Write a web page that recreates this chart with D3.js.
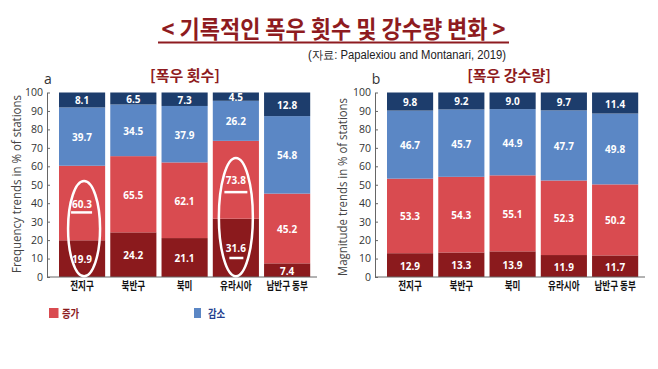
<!DOCTYPE html>
<html><head><meta charset="utf-8">
<script src="https://cdn.jsdelivr.net/npm/d3@7"></script>
<style>body{margin:0;background:#fff}svg{display:block}</style>
</head><body>
<svg id="c" width="658" height="369"></svg>
<script>
// ---- data ----
const categories = ["전지구", "북반구", "북미", "유라시아", "남반구 동부"];
const freqStrongIncrease = [19.9, 24.2, 21.1, 31.6, 7.4];
const freqIncrease       = [60.3, 65.5, 62.1, 73.8, 45.2];
const freqDecrease       = [39.7, 34.5, 37.9, 26.2, 54.8];
const freqStrongDecrease = [8.1, 6.5, 7.3, 4.5, 12.8];
const magStrongIncrease  = [12.9, 13.3, 13.9, 11.9, 11.7];
const magIncrease        = [53.3, 54.3, 55.1, 52.3, 50.2];
const magDecrease        = [46.7, 45.7, 44.9, 47.7, 49.8];
const magStrongDecrease  = [9.8, 9.2, 9.0, 9.7, 11.4];
const yTicks = [0, 10, 20, 30, 40, 50, 60, 70, 80, 90, 100];
const legendLabels = ["증가", "감소"];
const titleText = "< 기록적인 폭우 횟수 및 강수량 변화 >";
const sourceText = "(자료: Papalexiou and Montanari, 2019)";
// annotation (circled bars in panel a): category index, top value of ellipse
const circled = [{i: 0, top: 52, dx: 2, rx: 16}, {i: 3, top: 64.5, dx: 0, rx: 17}];
const underlines = [{i: 0, v: 35, a: -11, b: 10}, {i: 3, v: 46, a: -11.5, b: 11.5}, {i: 3, v: 10.3, a: -6.5, b: 7.5}];

const C = {darkBlue: "#1d3d6c", blue: "#5b87c5", red: "#d94b50", darkRed: "#8b1a1d", title: "#8e1b20"};
const svg = d3.select("#c");
const KR = "'Noto Sans CJK KR', sans-serif";
const LAT = "'Open Sans', 'Noto Sans', sans-serif";

// title
svg.append("text").attr("x", 161.5).attr("y", 38).attr("font-family", KR).attr("font-weight", 700)
  .attr("font-size", 24).attr("fill", C.title).attr("textLength", 344).attr("lengthAdjust", "spacingAndGlyphs").text(titleText);
svg.append("line").attr("x1", 158).attr("x2", 509).attr("y1", 42.5).attr("y2", 42.5).attr("stroke", C.title).attr("stroke-width", 2);
svg.append("text").attr("x", 308).attr("y", 59).attr("font-family", "'Liberation Sans Narrow', 'Liberation Sans', sans-serif")
  .attr("font-size", 12).attr("fill", "#222").attr("textLength", 198).attr("lengthAdjust", "spacingAndGlyphs").text(sourceText);

function compressed(sel, ratio) {
  sel.each(function () {
    const L = this.getComputedTextLength();
    d3.select(this).attr("textLength", L * ratio).attr("lengthAdjust", "spacingAndGlyphs");
  });
}

function panel(cfg) {
  const g = svg.append("g");
  const y = d3.scaleLinear().domain([0, 100]).range([277, 92.5]);
  const x = d3.scaleBand().domain(categories).range([cfg.x0, cfg.x0 + 251.2]).paddingInner(0.1).paddingOuter(0);
  const bw = x.bandwidth();
  const rows = categories.map((c, i) => ({
    c, si: cfg.si[i], inc: cfg.inc[i], dec: cfg.dec[i], sd: cfg.sd[i]
  }));
  const segs = [];
  rows.forEach(r => {
    segs.push({c: r.c, y0: 0, y1: r.si, fill: C.darkRed, label: r.si});
    segs.push({c: r.c, y0: r.si, y1: r.inc, fill: C.red, label: r.inc});
    segs.push({c: r.c, y0: r.inc, y1: 100 - r.sd, fill: C.blue, label: r.dec});
    segs.push({c: r.c, y0: 100 - r.sd, y1: 100, fill: C.darkBlue, label: r.sd});
  });
  g.selectAll("rect.seg").data(segs).join("rect").attr("class", "seg")
    .attr("x", d => x(d.c)).attr("width", bw)
    .attr("y", d => y(d.y1)).attr("height", d => y(d.y0) - y(d.y1)).attr("fill", d => d.fill);
  g.selectAll("text.val").data(segs).join("text").attr("class", "val")
    .attr("x", d => x(d.c) + bw / 2).attr("y", d => y((d.y0 + d.y1) / 2) + 1)
    .attr("dy", "0.35em").attr("text-anchor", "middle").attr("font-family", LAT).attr("font-weight", 700)
    .attr("font-size", 10).attr("fill", "#fff").text(d => d.label.toFixed(1));

  // axes
  const ax = g.append("g").attr("transform", `translate(${cfg.axisX},0)`)
    .call(d3.axisLeft(y).tickValues(yTicks).tickSizeInner(-3).tickSizeOuter(0).tickPadding(4));
  ax.select(".domain").attr("stroke", "#666");
  ax.selectAll(".tick line").attr("stroke", "#666");
  ax.selectAll(".tick text").attr("font-family", LAT).attr("font-size", 10.5).attr("fill", "#333");
  g.append("line").attr("x1", cfg.axisX).attr("x2", cfg.axisX + 270).attr("y1", y(0)).attr("y2", y(0)).attr("stroke", "#666");

  const xl = g.selectAll("text.cat").data(categories).join("text").attr("class", "cat")
    .attr("x", d => x(d) + bw / 2).attr("y", 290).attr("text-anchor", "middle")
    .attr("font-family", KR).attr("font-weight", 700).attr("font-size", 11).attr("fill", "#111").text(d => d);
  compressed(xl, 0.78);

  // labels
  g.append("text").attr("x", cfg.axisX + 1).attr("y", 84).attr("text-anchor", "middle").attr("font-family", LAT)
    .attr("font-size", 14).attr("fill", "#333").text(cfg.letter);
  g.append("text").attr("x", cfg.titleX).attr("y", 80.5).attr("text-anchor", "middle").attr("font-family", KR)
    .attr("font-weight", 700).attr("font-size", 15).attr("fill", C.title).text(cfg.title);
  g.append("text").attr("transform", `translate(${cfg.ytX},${cfg.ytY}) rotate(-90)`).attr("text-anchor", "middle")
    .attr("dy", "0.35em").attr("font-family", LAT).attr("font-size", 12).attr("fill", "#444")
    .attr("textLength", 178).attr("lengthAdjust", "spacingAndGlyphs").text(cfg.yTitle);
  return {g, x, y, bw};
}

const A = panel({x0: 59, axisX: 47, letter: "a", title: "[폭우 횟수]", titleX: 185,
  yTitle: "Frequency trends in % of stations", ytX: 17, ytY: 184,
  si: freqStrongIncrease, inc: freqIncrease, dec: freqDecrease, sd: freqStrongDecrease});
const B = panel({x0: 387, axisX: 375, letter: "b", title: "[폭우 강수량]", titleX: 509,
  yTitle: "Magnitude trends in % of stations", ytX: 343, ytY: 187,
  si: magStrongIncrease, inc: magIncrease, dec: magDecrease, sd: magStrongDecrease});

// annotations in panel a
circled.forEach(o => {
  const cx = A.x(categories[o.i]) + A.bw / 2 + o.dx;
  const yt = A.y(o.top), yb = A.y(0.4);
  A.g.append("ellipse").attr("cx", cx).attr("cy", (yt + yb) / 2).attr("rx", o.rx).attr("ry", (yb - yt) / 2)
    .attr("fill", "none").attr("stroke", "#fff").attr("stroke-width", 2.5);
});
underlines.forEach(o => {
  const cx = A.x(categories[o.i]) + A.bw / 2;
  A.g.append("line").attr("x1", cx + o.a).attr("x2", cx + o.b).attr("y1", A.y(o.v)).attr("y2", A.y(o.v))
    .attr("stroke", "#fff").attr("stroke-width", 2.5);
});

// legend
const legColors = [C.red, C.blue];
const legText = ["#8b1a1d", "#24408f"];
const legX = [49, 194];
const lg = svg.append("g");
legendLabels.forEach((t, i) => {
  lg.append("rect").attr("x", legX[i]).attr("y", 308).attr("width", i === 0 ? 9.5 : 7).attr("height", 10).attr("fill", legColors[i]);
  const tx = lg.append("text").attr("x", legX[i] + (i === 0 ? 13 : 14)).attr("y", 317.5).attr("font-family", KR)
    .attr("font-weight", 700).attr("font-size", 11).attr("fill", legText[i]).text(t);
  compressed(tx, 0.85);
});
</script>
</body></html>
